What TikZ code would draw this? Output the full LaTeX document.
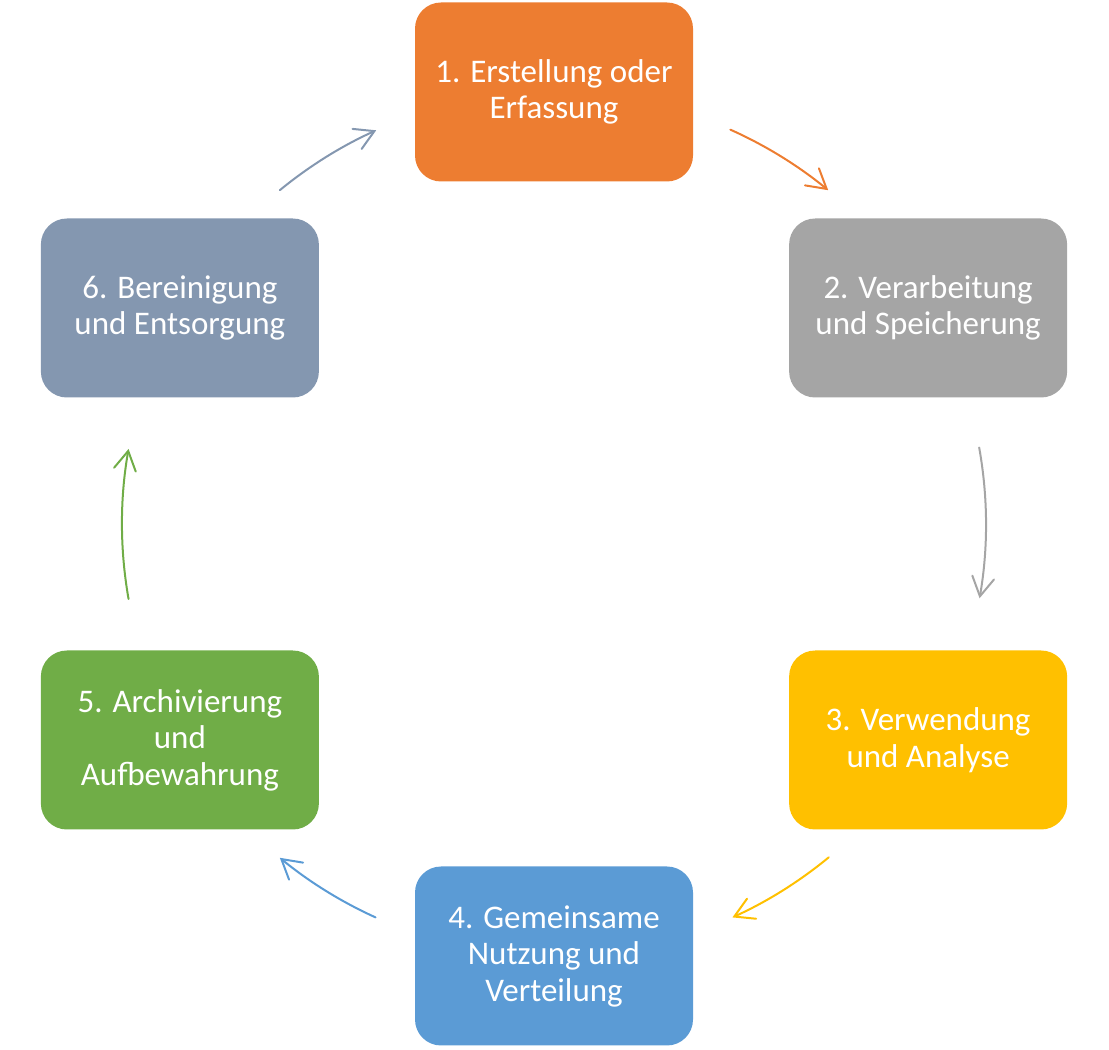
\documentclass[tikz,border=0pt]{standalone}
\usepackage{fontspec}
\setmainfont{Carlito}
\usetikzlibrary{arrows.meta, calc}
\definecolor{stepone}{HTML}{ED7D31}
\definecolor{steptwo}{HTML}{A5A5A5}
\definecolor{stepthree}{HTML}{FFC000}
\definecolor{stepfour}{HTML}{5B9BD5}
\definecolor{stepfive}{HTML}{70AD47}
\definecolor{stepsix}{HTML}{8497B0}

\begin{document}
\begin{tikzpicture}[
    x=1pt, y=1pt,
    phase/.style={rounded corners=26pt, minimum width=278pt, minimum height=179pt, inner sep=0pt, align=center, text=white, font=\fontsize{33}{36.5}\selectfont},
    flow/.style={-{Straight Barb[length=19pt, width=22pt, line cap=round]}, line width=2pt, line cap=round}
  ]
    \useasboundingbox (0,0) rectangle (1109,1050);
    \coordinate (centre) at (554,526);

    % Phases
    \node[phase, fill=stepone] (create) at ($(centre)+(90:432)$) {1. Erstellung oder\\Erfassung};
    \node[phase, fill=steptwo] (store) at ($(centre)+(30:432)$) {2. Verarbeitung\\und Speicherung};
    \node[phase, fill=stepthree] (use) at ($(centre)+(-30:432)$) {3. Verwendung\\und Analyse};
    \node[phase, fill=stepfour] (share) at ($(centre)+(-90:432)$) {4. Gemeinsame\\Nutzung und\\Verteilung};
    \node[phase, fill=stepfive] (archive) at ($(centre)+(-150:432)$) {5. Archivierung\\und\\Aufbewahrung};
    \node[phase, fill=stepsix] (dispose) at ($(centre)+(150:432)$) {6. Bereinigung\\und Entsorgung};

    % Arc starts
    \coordinate (createout) at ($(centre)+(65.9:432)$);
    \coordinate (storeout) at ($(centre)+(10.2:432)$);
    \coordinate (useout) at ($(centre)+(-50.5:432)$);
    \coordinate (shareout) at ($(centre)+(-114.4:432)$);
    \coordinate (archiveout) at ($(centre)+(190:432)$);
    \coordinate (disposeout) at ($(centre)+(129.4:432)$);

    % Cycle
    \draw[flow, stepone] (createout) arc[start angle=65.9, end angle=50.6, radius=432];
    \draw[flow, steptwo] (storeout) arc[start angle=10.2, end angle=-9.9, radius=432];
    \draw[flow, stepthree] (useout) arc[start angle=-50.5, end angle=-65.6, radius=432];
    \draw[flow, stepfour] (shareout) arc[start angle=-114.4, end angle=-129.4, radius=432];
    \draw[flow, stepfive] (archiveout) arc[start angle=190, end angle=170, radius=432];
    \draw[flow, stepsix] (disposeout) arc[start angle=129.4, end angle=114.3, radius=432];
  \end{tikzpicture}
\end{document}
